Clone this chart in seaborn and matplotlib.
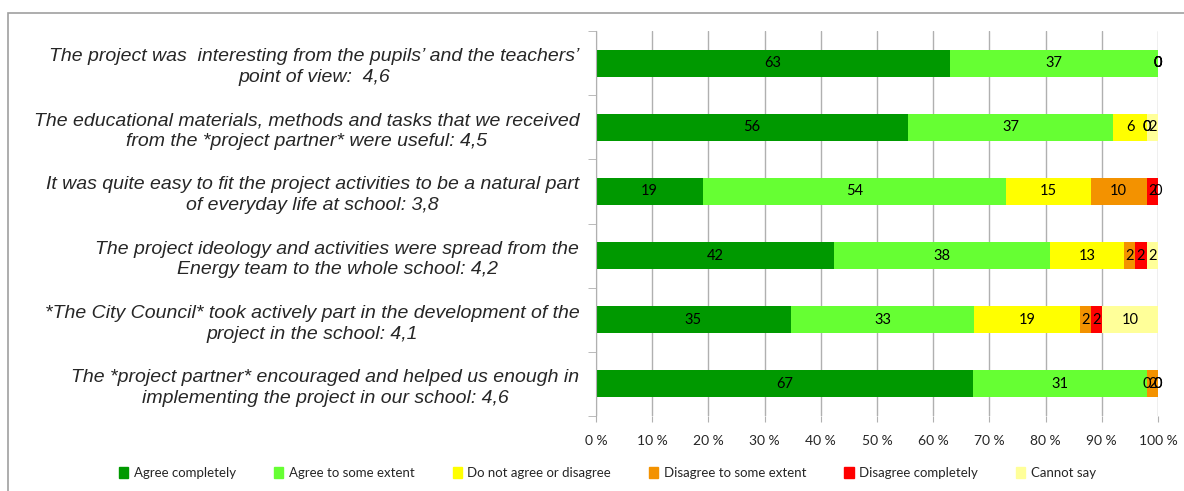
import numpy as np
import pandas as pd
import matplotlib
matplotlib.use("Agg")
import matplotlib.pyplot as plt
import matplotlib.patches as mpatches
import seaborn as sns

statements = [
    "The project was  interesting from the pupils\u2019 and the teachers\u2019\npoint of view:  4,6",
    "The educational materials, methods and tasks that we received\nfrom the *project partner* were useful: 4,5",
    "It was quite easy to fit the project activities to be a natural part\nof everyday life at school: 3,8",
    "The project ideology and activities were spread from the\nEnergy team to the whole school: 4,2",
    "*The City Council* took actively part in the development of the\nproject in the school: 4,1",
    "The *project partner* encouraged and helped us enough in\nimplementing the project in our school: 4,6",
]
responses = ["Agree completely", "Agree to some extent", "Do not agree or disagree",
             "Disagree to some extent", "Disagree completely", "Cannot say"]
agree_completely = [63, 56, 19, 42, 35, 67]
agree_some = [37, 37, 54, 38, 33, 31]
neutral = [0, 6, 15, 13, 19, 0]
disagree_some = [0, 0, 10, 2, 2, 2]
disagree_completely = [0, 0, 2, 2, 2, 0]
cannot_say = [0, 2, 0, 2, 10, 0]
colors = ["#009900", "#66FF33", "#FFFF00", "#F39200", "#FF0000", "#FFFF99"]
tick_labels = ["0 %", "10 %", "20 %", "30 %", "40 %", "50 %", "60 %", "70 %", "80 %", "90 %", "100 %"]

series = [agree_completely, agree_some, neutral, disagree_some, disagree_completely, cannot_say]
df = pd.DataFrame(np.array(series).T, columns=responses)
df.insert(0, "statement", statements)
vals = df[responses].astype(float)
pct = vals.div(vals.sum(axis=1), axis=0) * 100
cum = pct.cumsum(axis=1)

sns.set_style("white")
plt.rcParams["font.family"] = ["Liberation Sans", "DejaVu Sans"]

fig = plt.figure(figsize=(11.84, 4.91), dpi=100)
ax = fig.add_axes([596/1184, 1-416/491, (1158-596)/1184, (416-31)/491])

# vertical gridlines
for t in np.arange(0, 101, 10):
    ax.axvline(t, color="#b0b0b0", lw=1.0, zorder=0)

for i in range(len(responses) - 1, -1, -1):
    plot_df = pd.DataFrame({"statement": statements, "value": cum[responses[i]].values})
    sns.barplot(data=plot_df, x="value", y="statement", orient="h", color=colors[i],
                saturation=1, width=0.42, ax=ax, zorder=2, edgecolor="none", linewidth=0)

# labels
for r, st in enumerate(statements):
    left = 0.0
    for i, resp in enumerate(responses):
        w = pct.loc[r, resp]
        ax.text(left + w / 2, r, f"{int(vals.loc[r, resp])}", ha="center", va="center",
                fontsize=10.5, family=["Lato", "DejaVu Sans"], color="black", zorder=5)
        left += w

ax.set_xlim(0, 100)
ax.set_ylim(len(statements) - 0.5, -0.5)
ax.set_xticks(np.arange(0, 101, 10))
ax.set_xticklabels(tick_labels, fontsize=10, family=["Lato", "DejaVu Sans"])
ax.tick_params(axis="x", length=4, color="#b0b0b0", pad=10, direction="out", bottom=True)
ax.set_yticks(range(len(statements)))
ax.set_yticklabels(statements, fontsize=14, style="italic", multialignment="center",
                   linespacing=1.3)
ax.tick_params(axis="y", length=0, pad=12)
ax.set_yticks(np.arange(-0.5, len(statements), 1), minor=True)
ax.tick_params(axis="y", which="minor", length=6, color="#b0b0b0", left=True)
ax.set_xlabel("")
ax.set_ylabel("")
for s in ["top", "right", "bottom"]:
    ax.spines[s].set_visible(False)
ax.spines["left"].set_color("#b0b0b0")

handles = [mpatches.Patch(color=c, label=l) for c, l in zip(colors, responses)]
fig.legend(handles=handles, loc="center", bbox_to_anchor=(0.513, 0.037), ncol=6, frameon=False,
           prop={"family": ["Lato", "DejaVu Sans"], "size": 9.5}, handlelength=0.7, handleheight=0.9,
           handletextpad=0.4, columnspacing=2.9)

border = mpatches.Rectangle((8/1184, -0.05), 1.2, 1 - 13/491 + 0.05, transform=fig.transFigure,
                            fill=False, edgecolor="#a0a0a0", lw=1.2)
fig.patches.append(border)

fig.savefig("out.png", dpi=100)
